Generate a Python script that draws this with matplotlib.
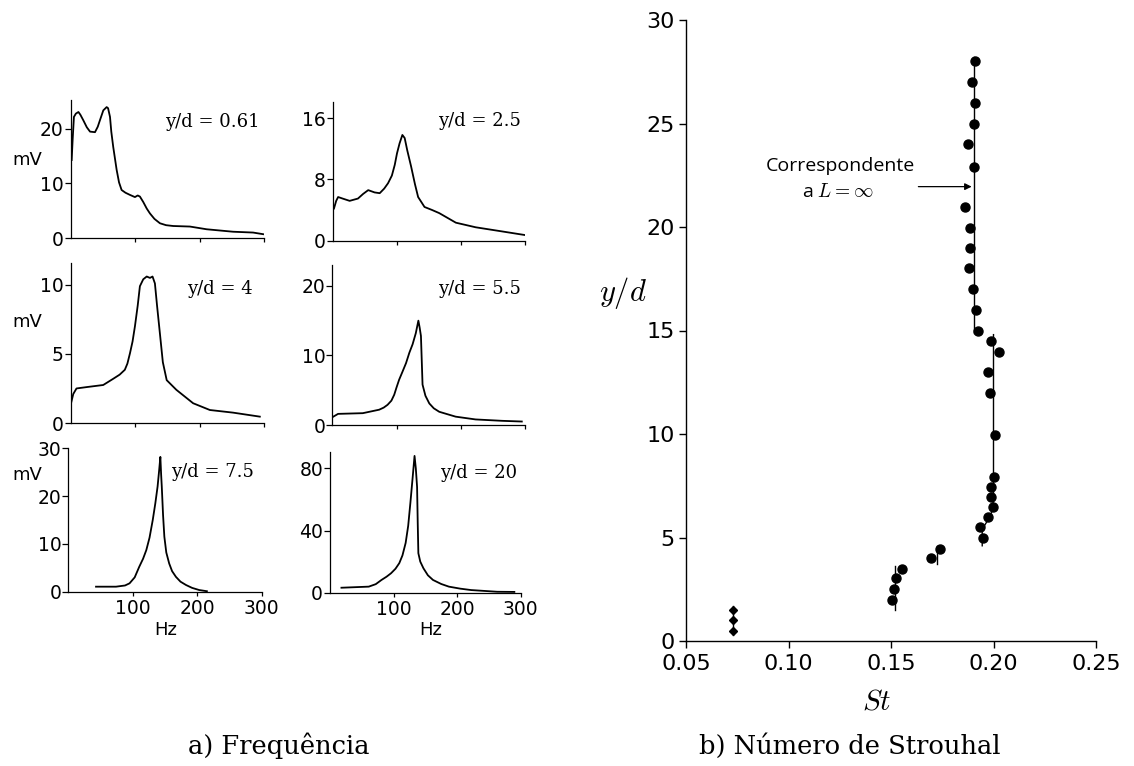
import numpy as np
import matplotlib.pyplot as plt

plt.rcParams['font.family'] = ['DejaVu Sans']
plt.rcParams['mathtext.fontset'] = 'cm'

# ---- espectros (a) ----
hz_061 = [1.5, 3, 5, 8, 12, 15, 19.5, 25, 30, 37.7, 42, 45.4, 50.6, 55.8, 58, 61, 63, 66,
          71.3, 75, 79, 85, 92, 99.7, 104, 107.4, 112.6, 118, 123, 130, 138.5, 148, 159,
          185, 211, 252, 283, 298.6]
mv_061 = [14.3, 18, 22.2, 22.8, 23.1, 22.6, 21.6, 20.3, 19.5, 19.4, 20.4, 21.6, 23.4, 24.0,
          23.8, 22.2, 19.5, 16.7, 12.5, 10.2, 8.8, 8.3, 7.9, 7.5, 7.8, 7.6, 6.6, 5.4, 4.5,
          3.5, 2.7, 2.35, 2.2, 2.1, 1.6, 1.15, 1.0, 0.7]

hz_25 = [1.5, 5, 8, 15, 26, 39, 47, 55, 65, 73, 80, 86, 92, 96.5, 100, 104, 108.4, 112, 116,
         122, 128, 133, 143, 155, 166, 192, 223, 265, 299]
mv_25 = [4.2, 5.2, 5.7, 5.5, 5.2, 5.5, 6.1, 6.6, 6.3, 6.2, 6.8, 7.5, 8.5, 9.9, 11.4, 12.7,
         13.8, 13.4, 11.8, 9.7, 7.4, 5.7, 4.4, 4.0, 3.6, 2.35, 1.75, 1.2, 0.75]

hz_4 = [0.5, 4, 9, 25, 50.5, 66, 76, 84, 88, 92, 96, 99.7, 104, 107.4, 112.6, 118, 123,
        127, 130.7, 134, 138.4, 143, 149, 164, 190, 216, 252, 293.5]
mv_4 = [1.43, 2.1, 2.5, 2.6, 2.75, 3.2, 3.5, 3.85, 4.3, 5.05, 5.9, 7.0, 8.5, 9.9, 10.4,
        10.6, 10.5, 10.6, 10.1, 8.5, 6.5, 4.4, 3.1, 2.4, 1.43, 0.94, 0.75, 0.46]

hz_55 = [1.6, 9, 47.5, 73, 80, 86, 92, 96.4, 100, 104, 109, 114.8, 120, 125, 130, 134, 136,
         138, 140.5, 145, 151, 158, 166.5, 192, 223, 264.5, 295]
mv_55 = [1.2, 1.6, 1.7, 2.2, 2.5, 2.9, 3.5, 4.35, 5.4, 6.5, 7.6, 8.9, 10.4, 11.6, 13.2, 15.0,
         14.0, 12.8, 5.8, 4.2, 3.1, 2.4, 1.9, 1.2, 0.8, 0.6, 0.5]

hz_75 = [43, 74, 88, 95, 103, 110, 116, 121, 126, 131, 135, 138.5, 141, 142.8, 144, 145,
         147, 149, 152, 156.5, 161, 167, 174, 182.6, 192, 203, 215]
mv_75 = [1.05, 1.05, 1.3, 1.75, 3.0, 5.2, 6.9, 8.7, 11.3, 15, 18.5, 22, 25.5, 28.2, 24.5,
         22, 16, 11.5, 8.2, 5.9, 4.3, 3.1, 2.1, 1.4, 0.8, 0.35, 0.1]

hz_20 = [18, 61, 72, 81, 89, 96, 103, 109, 114, 119, 123, 126.5, 130, 133, 135, 137, 138,
         139, 142, 147, 154, 162, 175, 187, 205, 222, 263, 290]
mv_20 = [3.2, 3.9, 5.5, 8.2, 10.3, 12.5, 15.4, 19, 24, 32, 43, 58, 74, 88, 80, 68, 45, 25.4,
         20, 15.7, 11.2, 8.2, 5.6, 3.9, 2.6, 1.7, 0.6, 0.5]

labels_a = ['y/d = 0.61', 'y/d = 2.5', 'y/d = 4', 'y/d = 5.5', 'y/d = 7.5', 'y/d = 20']
yticks_a = [[0, 10, 20], [0, 8, 16], [0, 5, 10], [0, 10, 20], [0, 10, 20, 30], [0, 40, 80]]
xticks_a = [100, 200, 300]

# ---- Strouhal (b) ----
st = [0.1910, 0.1897, 0.1908, 0.1905, 0.1874, 0.1904, 0.1862, 0.1886, 0.1883, 0.1879,
      0.1901, 0.1913, 0.1925, 0.1990, 0.2025, 0.1975, 0.1985, 0.2006, 0.2001, 0.1988,
      0.1990, 0.1996, 0.1972, 0.1935, 0.1947, 0.1741, 0.1696, 0.1555, 0.1526, 0.1513,
      0.1506]
yd = [28.0, 27.0, 26.0, 25.0, 24.0, 22.9, 20.95, 19.95, 18.97, 18.0, 17.0, 16.0, 14.96,
      14.5, 13.96, 12.98, 11.97, 9.95, 7.94, 7.45, 6.97, 6.49, 6.0, 5.5, 4.99, 4.46, 4.03,
      3.5, 3.04, 2.5, 2.0]
st_low = [0.073, 0.073, 0.073]
yd_low = [0.5, 1.0, 1.5]

# linhas verticais de referência
line1_st = [0.1907, 0.1907]
line1_yd = [14.9, 28.2]
line2_st = [0.2000, 0.2000, 0.1990, 0.1970, 0.1945, 0.1945]
line2_yd = [14.8, 6.8, 6.2, 5.8, 5.4, 4.6]
stick_st = [[0.1724, 0.1724], [0.1518, 0.1518], [0.073, 0.073]]
stick_yd = [[3.7, 4.6], [1.5, 3.6], [0.3, 1.7]]

W, H = 1134, 766
fig = plt.figure(figsize=(W / 100, H / 100), dpi=100)


def px_axes(left, top, right, bottom):
    return fig.add_axes([left / W, 1 - bottom / H, (right - left) / W, (bottom - top) / H])


# caixas em pixels: (esq, topo, dir, base), limite superior em y, posição do rótulo
boxes = [(70.7, 100, 264, 238, 25.3, 0.98, 0.84),
         (333, 102, 525, 240.7, 18.1, 0.98, 0.86),
         (70.7, 262.7, 264, 423, 11.6, 0.94, 0.836),
         (332.3, 265, 525, 425, 23, 0.98, 0.85),
         (68.3, 448.3, 261.7, 591.7, 30, 0.96, 0.835),
         (330, 452, 520.7, 592.7, 90.5, 0.98, 0.85)]
series = [(hz_061, mv_061), (hz_25, mv_25), (hz_4, mv_4),
          (hz_55, mv_55), (hz_75, mv_75), (hz_20, mv_20)]

for i, (b, (hz, mv)) in enumerate(zip(boxes, series)):
    ax = px_axes(b[0], b[1], b[2], b[3])
    ax.plot(hz, mv, color='black', lw=1.3)
    ax.set_xlim(0, 300)
    ax.set_ylim(0, b[4])
    ax.set_yticks(yticks_a[i])
    ax.set_xticks(xticks_a)
    for s in ['top', 'right']:
        ax.spines[s].set_visible(False)
    for s in ['left', 'bottom']:
        ax.spines[s].set_linewidth(0.9)
    ax.tick_params(axis='y', direction='out', length=4, width=0.9, labelsize=13.5, pad=1)
    ax.tick_params(axis='x', direction='out', length=3, width=0.9, labelsize=13.5, pad=2)
    if i < 4:
        ax.set_xticklabels([])
    ax.text(b[5], b[6], labels_a[i], transform=ax.transAxes, ha='right', va='center',
            fontsize=13, family='DejaVu Serif')

for yy in [160, 322, 475]:
    fig.text(27 / W, 1 - yy / H, 'mV', ha='center', va='center', fontsize=13)
for xx in [166, 431]:
    fig.text(xx / W, 1 - 630 / H, 'Hz', ha='center', va='center', fontsize=13)

# ---- painel (b) ----
axb = px_axes(686, 20, 1096, 641)
axb.plot(line1_st, line1_yd, color='black', lw=1.0)
axb.plot(line2_st, line2_yd, color='black', lw=1.0)
for sx, sy in zip(stick_st, stick_yd):
    axb.plot(sx, sy, color='black', lw=1.0)
axb.plot(st, yd, 'o', color='black', ms=6.5)
axb.plot(st_low, yd_low, 'D', color='black', ms=4)
axb.set_xlim(0.05, 0.25)
axb.set_ylim(0, 30)
axb.set_xticks([0.05, 0.10, 0.15, 0.20, 0.25])
axb.set_xticklabels(['0.05', '0.10', '0.15', '0.20', '0.25'])
axb.set_yticks([0, 5, 10, 15, 20, 25, 30])
for s in ['top', 'right']:
    axb.spines[s].set_visible(False)
for s in ['left', 'bottom']:
    axb.spines[s].set_linewidth(1.0)
axb.tick_params(axis='y', direction='out', length=5, width=1.0, labelsize=16, pad=3)
axb.tick_params(axis='x', direction='out', length=5, width=1.0, labelsize=16, pad=4)

axb.annotate('', xy=(0.1907, 21.95), xytext=(0.162, 21.95),
             arrowprops=dict(arrowstyle='-|>', color='black', lw=0.9, mutation_scale=10))
fig.text(840 / W, 1 - 166 / H, 'Correspondente', ha='center', va='center',
         fontsize=14, family='Open Sans')
fig.text(838 / W, 1 - 192 / H, r'a $L = \infty$', ha='center', va='center',
         fontsize=14, family='Open Sans')

fig.text(623 / W, 1 - 293 / H, r'$y/d$', ha='center', va='center', fontsize=22)
fig.text(877 / W, 1 - 701 / H, r'$St$', ha='center', va='center', fontsize=21)

fig.text(279 / W, 1 - 746 / H, 'a) Frequência', ha='center', va='center',
         fontsize=18.5, family='DejaVu Serif')
fig.text(850 / W, 1 - 746 / H, 'b) Número de Strouhal', ha='center', va='center',
         fontsize=18.5, family='DejaVu Serif')

fig.savefig('out.png', dpi=100)
